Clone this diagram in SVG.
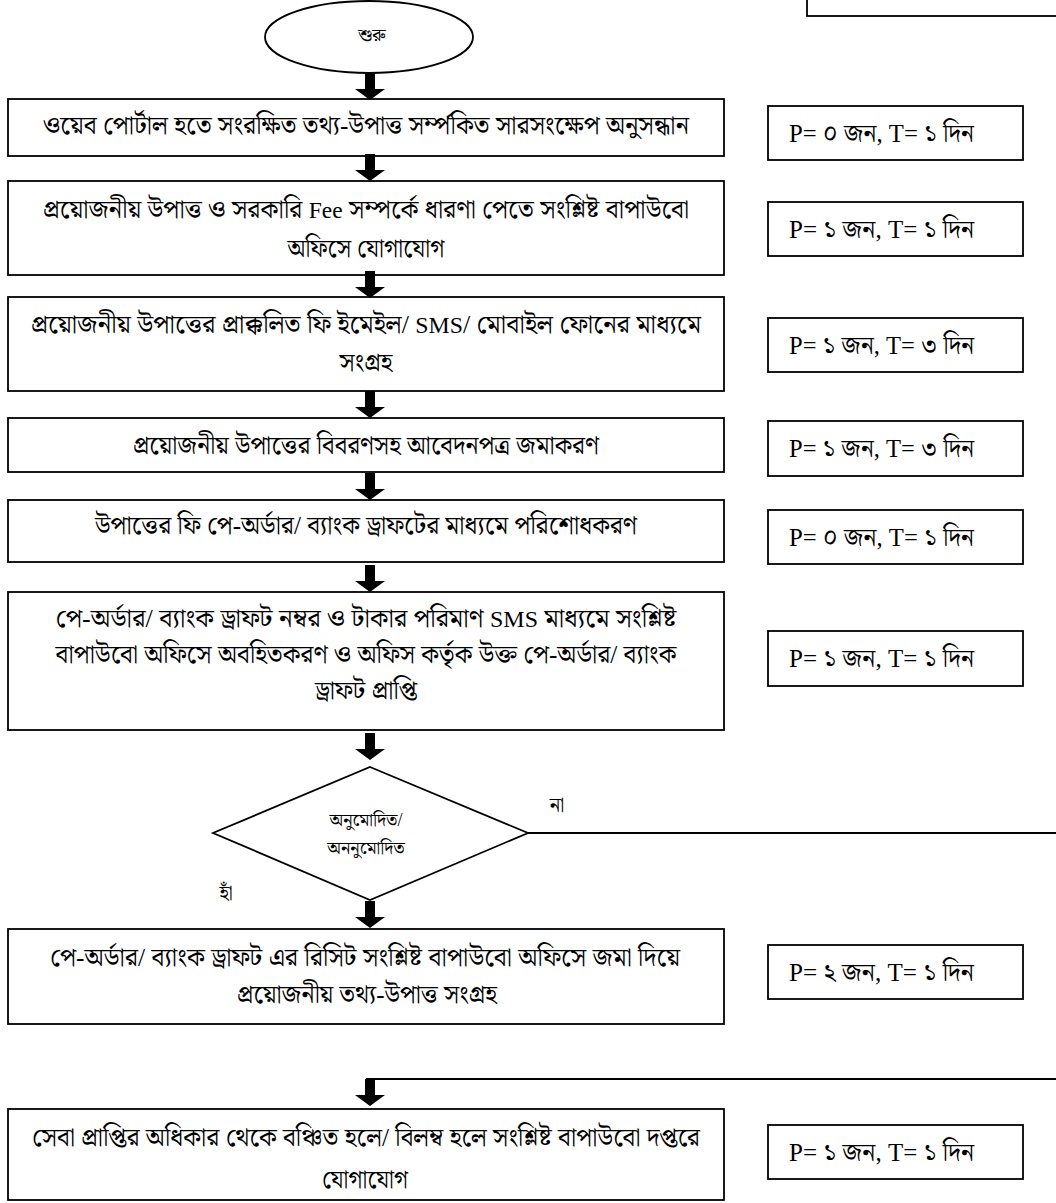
<svg xmlns="http://www.w3.org/2000/svg" width="1056" height="1203" viewBox="0 0 1056 1203">
<style>
.box{fill:#fff;stroke:#000;stroke-width:1.8}
.t{font-family:"Liberation Serif","Noto Serif Bengali","Noto Sans Bengali","Lohit Bengali","FreeSerif",serif;font-size:25px;fill:#000;text-anchor:middle}
.e{font-size:23px}
.s{font-size:18px}
.p{font-family:"Liberation Serif","Noto Serif Bengali","Noto Sans Bengali","Lohit Bengali","FreeSerif",serif;font-size:25px;fill:#000}
.ar{fill:#000}
.ln{stroke:#000;stroke-width:1.8;fill:none}
</style>
<defs>
<path id="arr" d="M-5,0 H5 V16 H15 L0,27 L-15,16 H-5 Z"/>
</defs>
<rect width="1056" height="1203" fill="#fff"/>
<g id="corner"><rect class="box" x="807" y="-4" width="260" height="20"/></g>
<g id="start"><ellipse class="box" cx="369" cy="37" rx="104" ry="36"/><text class="t s" x="372" y="41">শুরু</text></g>
<g id="n1"><rect class="box" x="8" y="99" width="716" height="57"/><text class="t" x="366" y="134" textLength="646" lengthAdjust="spacingAndGlyphs">ওয়েব পোর্টাল হতে সংরক্ষিত তথ্য-উপাত্ত সর্ম্পকিত সারসংক্ষেপ অনুসন্ধান</text></g>
<g id="p1"><rect class="box" x="768" y="106" width="255" height="54"/><text class="p" x="789" y="142" textLength="185" lengthAdjust="spacingAndGlyphs">P= ০ জন, T= ১ দিন</text></g>
<g id="n2"><rect class="box" x="8" y="181" width="716" height="94"/><text class="t" x="366" y="218" textLength="646" lengthAdjust="spacingAndGlyphs">প্রয়োজনীয় উপাত্ত ও সরকারি <tspan class="e">Fee</tspan> সম্পর্কে ধারণা পেতে সংশ্লিষ্ট বাপাউবো</text><text class="t" x="366" y="257" textLength="157" lengthAdjust="spacingAndGlyphs">অফিসে যোগাযোগ</text></g>
<g id="p2"><rect class="box" x="768" y="202" width="255" height="54"/><text class="p" x="789" y="238" textLength="185" lengthAdjust="spacingAndGlyphs">P= ১ জন, T= ১ দিন</text></g>
<g id="n3"><rect class="box" x="8" y="297" width="716" height="94"/><text class="t" x="366" y="333" textLength="670" lengthAdjust="spacingAndGlyphs">প্রয়োজনীয় উপাত্তের প্রাক্কলিত ফি ইমেইল/ <tspan class="e">SMS</tspan>/ মোবাইল ফোনের মাধ্যমে</text><text class="t" x="366" y="371" textLength="53" lengthAdjust="spacingAndGlyphs">সংগ্রহ</text></g>
<g id="p3"><rect class="box" x="768" y="318" width="255" height="54"/><text class="p" x="789" y="354" textLength="185" lengthAdjust="spacingAndGlyphs">P= ১ জন, T= ৩ দিন</text></g>
<g id="n4"><rect class="box" x="8" y="418" width="716" height="54"/><text class="t" x="366" y="454" textLength="466" lengthAdjust="spacingAndGlyphs">প্রয়োজনীয় উপাত্তের বিবরণসহ আবেদনপত্র জমাকরণ</text></g>
<g id="p4"><rect class="box" x="768" y="421" width="255" height="55"/><text class="p" x="789" y="457" textLength="185" lengthAdjust="spacingAndGlyphs">P= ১ জন, T= ৩ দিন</text></g>
<g id="n5"><rect class="box" x="8" y="500" width="716" height="62"/><text class="t" x="366" y="534" textLength="542" lengthAdjust="spacingAndGlyphs">উপাত্তের ফি পে-অর্ডার/ ব্যাংক ড্রাফটের মাধ্যমে পরিশোধকরণ</text></g>
<g id="p5"><rect class="box" x="768" y="510" width="255" height="54"/><text class="p" x="789" y="546" textLength="185" lengthAdjust="spacingAndGlyphs">P= ০ জন, T= ১ দিন</text></g>
<g id="n6"><rect class="box" x="8" y="592" width="716" height="138"/><text class="t" x="366" y="627" textLength="621" lengthAdjust="spacingAndGlyphs">পে-অর্ডার/ ব্যাংক ড্রাফট নম্বর ও টাকার পরিমাণ <tspan class="e">SMS</tspan> মাধ্যমে সংশ্লিষ্ট</text><text class="t" x="366" y="663" textLength="621" lengthAdjust="spacingAndGlyphs">বাপাউবো অফিসে অবহিতকরণ ও অফিস কর্তৃক উক্ত পে-অর্ডার/ ব্যাংক</text><text class="t" x="366" y="699" textLength="102" lengthAdjust="spacingAndGlyphs">ড্রাফট প্রাপ্তি</text></g>
<g id="p6"><rect class="box" x="768" y="631" width="255" height="55"/><text class="p" x="789" y="667" textLength="185" lengthAdjust="spacingAndGlyphs">P= ১ জন, T= ১ দিন</text></g>
<g id="d1"><polygon class="box" points="370,767 528,833 370,900 213,833"/><text class="t s" x="366" y="826">অনুমোদিত/</text><text class="t s" x="366" y="854">অননুমোদিত</text></g>
<g id="n7"><rect class="box" x="8" y="929" width="716" height="95"/><text class="t" x="365" y="966" textLength="630" lengthAdjust="spacingAndGlyphs">পে-অর্ডার/ ব্যাংক ড্রাফট এর রিসিট সংশ্লিষ্ট বাপাউবো অফিসে জমা দিয়ে</text><text class="t" x="367" y="1003" textLength="260" lengthAdjust="spacingAndGlyphs">প্রয়োজনীয় তথ্য-উপাত্ত সংগ্রহ</text></g>
<g id="p7"><rect class="box" x="768" y="945" width="255" height="54"/><text class="p" x="789" y="981" textLength="185" lengthAdjust="spacingAndGlyphs">P= ২ জন, T= ১ দিন</text></g>
<g id="n8"><rect class="box" x="8" y="1109" width="716" height="91"/><text class="t" x="366" y="1146" textLength="668" lengthAdjust="spacingAndGlyphs">সেবা প্রাপ্তির অধিকার থেকে বঞ্চিত হলে/ বিলম্ব হলে সংশ্লিষ্ট বাপাউবো দপ্তরে</text><text class="t" x="365" y="1188" textLength="86" lengthAdjust="spacingAndGlyphs">যোগাযোগ</text></g>
<g id="p8"><rect class="box" x="768" y="1125" width="255" height="54"/><text class="p" x="789" y="1161" textLength="185" lengthAdjust="spacingAndGlyphs">P= ১ জন, T= ১ দিন</text></g>
<g id="connectors">
<use href="#arr" class="ar" x="370" y="73"/>
<use href="#arr" class="ar" x="370" y="154"/>
<use href="#arr" class="ar" x="370" y="271"/>
<use href="#arr" class="ar" x="370" y="391"/>
<use href="#arr" class="ar" x="370" y="473"/>
<use href="#arr" class="ar" x="370" y="565"/>
<use href="#arr" class="ar" x="370" y="733"/>
<use href="#arr" class="ar" x="370" y="901"/>
<polyline class="ln" points="1056,833 528,833"/>
<polyline class="ln" points="1056,1079 366,1079"/>
<use href="#arr" class="ar" x="370" y="1079"/>
<text class="t" x="557" y="812" style="font-size:20px">না</text>
<text class="t" x="226" y="900" style="font-size:20px">হাঁ</text>
</g>
</svg>
